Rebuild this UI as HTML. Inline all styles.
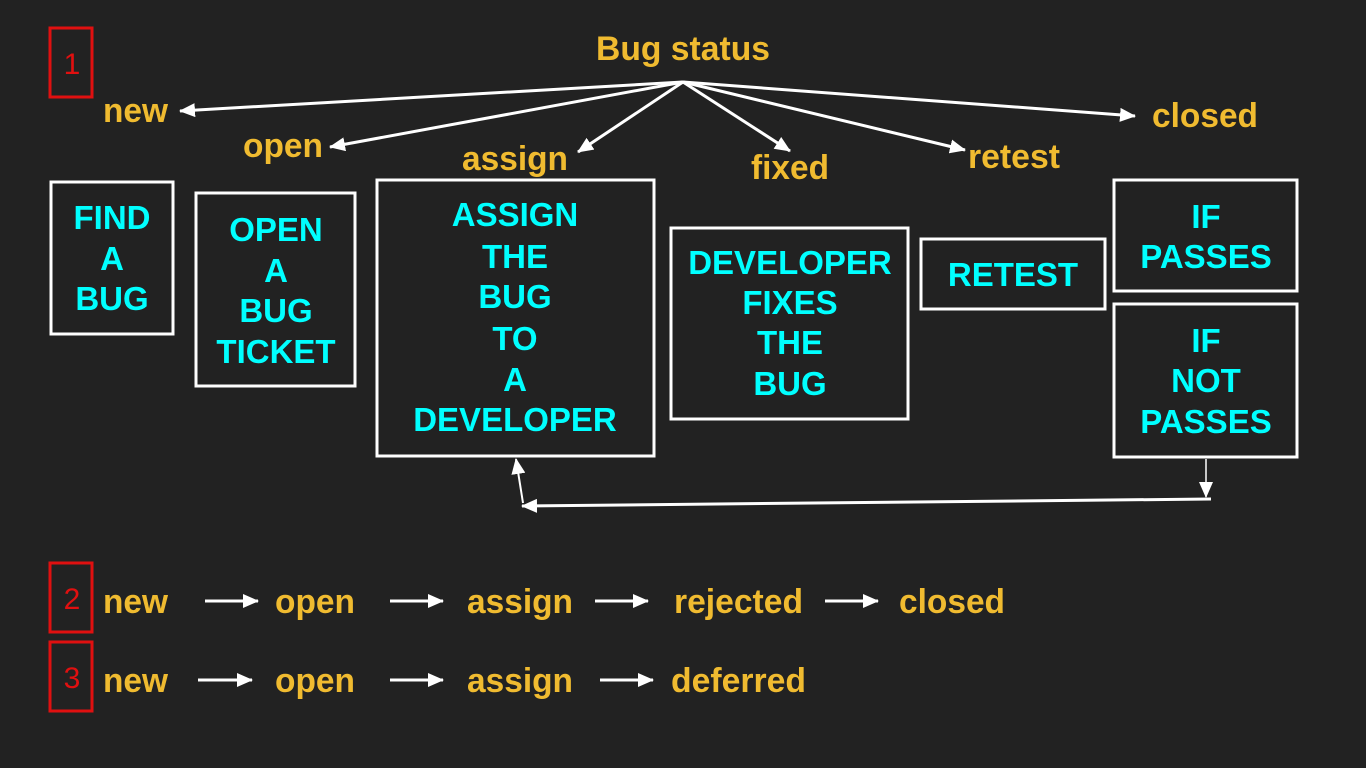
<!DOCTYPE html>
<html><head><meta charset="utf-8"><style>
html,body{margin:0;padding:0;background:#222222;}
svg{display:block}
.g{fill:#f0bb30;font-family:"Liberation Sans",sans-serif;font-weight:bold;font-size:34px}
.c{fill:#00ffff;font-family:"Liberation Sans",sans-serif;font-weight:bold;font-size:33px;text-anchor:middle}
.b{fill:none;stroke:#fff;stroke-width:3}
.l{stroke:#fff;stroke-width:3;fill:none}
.r{fill:none;stroke:#e01010;stroke-width:3}
.n{fill:#e01010;font-family:"Liberation Sans",sans-serif;font-size:30px;text-anchor:middle}
</style></head><body>
<svg width="1366" height="768" viewBox="0 0 1366 768" xmlns="http://www.w3.org/2000/svg">
<defs>
<marker id="a2" markerWidth="16" markerHeight="14" refX="15" refY="7" orient="auto" markerUnits="userSpaceOnUse" viewBox="0 0 16 14"><path d="M0,0 L16,7 L0,14 z" fill="#fff"/></marker>
</defs>
<rect width="1366" height="768" fill="#222222"/>
<rect class="r" x="50" y="28" width="42" height="69"/><text class="n" x="72" y="74">1</text>
<rect class="r" x="50" y="563" width="42" height="69"/><text class="n" x="72" y="609">2</text>
<rect class="r" x="50" y="642" width="42" height="69"/><text class="n" x="72" y="688">3</text>
<text class="g" x="596" y="60" textLength="174" lengthAdjust="spacingAndGlyphs">Bug status</text>
<text class="g" x="103" y="122" textLength="65" lengthAdjust="spacingAndGlyphs">new</text>
<text class="g" x="243" y="157" textLength="80" lengthAdjust="spacingAndGlyphs">open</text>
<text class="g" x="462" y="170" textLength="106" lengthAdjust="spacingAndGlyphs">assign</text>
<text class="g" x="751" y="179" textLength="78" lengthAdjust="spacingAndGlyphs">fixed</text>
<text class="g" x="968" y="168" textLength="92" lengthAdjust="spacingAndGlyphs">retest</text>
<text class="g" x="1152" y="127" textLength="106" lengthAdjust="spacingAndGlyphs">closed</text>
<g class="l">
<line x1="683" y1="82" x2="180" y2="111" marker-end="url(#a2)"/>
<line x1="683" y1="82" x2="330" y2="147" marker-end="url(#a2)"/>
<line x1="683" y1="82" x2="578" y2="152" marker-end="url(#a2)"/>
<line x1="683" y1="82" x2="790" y2="151" marker-end="url(#a2)"/>
<line x1="683" y1="82" x2="965" y2="150" marker-end="url(#a2)"/>
<line x1="683" y1="82" x2="1135" y2="116" marker-end="url(#a2)"/>
</g>
<rect class="b" x="51" y="182" width="122" height="152"/>
<text class="c"><tspan x="112" y="229">FIND</tspan><tspan x="112" y="270">A</tspan><tspan x="112" y="310">BUG</tspan></text>
<rect class="b" x="196" y="193" width="159" height="193"/>
<text class="c"><tspan x="276" y="241">OPEN</tspan><tspan x="276" y="282">A</tspan><tspan x="276" y="322">BUG</tspan><tspan x="276" y="363">TICKET</tspan></text>
<rect class="b" x="377" y="180" width="277" height="276"/>
<text class="c"><tspan x="515" y="226">ASSIGN</tspan><tspan x="515" y="268">THE</tspan><tspan x="515" y="308">BUG</tspan><tspan x="515" y="350">TO</tspan><tspan x="515" y="391">A</tspan><tspan x="515" y="431">DEVELOPER</tspan></text>
<rect class="b" x="671" y="228" width="237" height="191"/>
<text class="c"><tspan x="790" y="274">DEVELOPER</tspan><tspan x="790" y="314">FIXES</tspan><tspan x="790" y="354">THE</tspan><tspan x="790" y="395">BUG</tspan></text>
<rect class="b" x="921" y="239" width="184" height="70"/>
<text class="c"><tspan x="1013" y="286">RETEST</tspan></text>
<rect class="b" x="1114" y="180" width="183" height="111"/>
<text class="c"><tspan x="1206" y="228">IF</tspan><tspan x="1206" y="268">PASSES</tspan></text>
<rect class="b" x="1114" y="304" width="183" height="153"/>
<text class="c"><tspan x="1206" y="352">IF</tspan><tspan x="1206" y="392">NOT</tspan><tspan x="1206" y="433">PASSES</tspan></text>
<line x1="1206" y1="459" x2="1206" y2="497" stroke="#fff" stroke-width="1.5" marker-end="url(#a2)"/>
<line x1="1211" y1="499" x2="522" y2="506" stroke="#fff" stroke-width="3" marker-end="url(#a2)"/>
<line x1="523" y1="503" x2="516" y2="459" stroke="#fff" stroke-width="2" marker-end="url(#a2)"/>
<text class="g" x="103" y="613" textLength="65" lengthAdjust="spacingAndGlyphs">new</text>
<text class="g" x="275" y="613" textLength="80" lengthAdjust="spacingAndGlyphs">open</text>
<text class="g" x="467" y="613" textLength="106" lengthAdjust="spacingAndGlyphs">assign</text>
<text class="g" x="674" y="613" textLength="129" lengthAdjust="spacingAndGlyphs">rejected</text>
<text class="g" x="899" y="613" textLength="106" lengthAdjust="spacingAndGlyphs">closed</text>
<g stroke="#fff" stroke-width="3">
<line x1="205" y1="601" x2="258" y2="601" marker-end="url(#a2)"/>
<line x1="390" y1="601" x2="443" y2="601" marker-end="url(#a2)"/>
<line x1="595" y1="601" x2="648" y2="601" marker-end="url(#a2)"/>
<line x1="825" y1="601" x2="878" y2="601" marker-end="url(#a2)"/>
<line x1="198" y1="680" x2="252" y2="680" marker-end="url(#a2)"/>
<line x1="390" y1="680" x2="443" y2="680" marker-end="url(#a2)"/>
<line x1="600" y1="680" x2="653" y2="680" marker-end="url(#a2)"/>
</g>
<text class="g" x="103" y="692" textLength="65" lengthAdjust="spacingAndGlyphs">new</text>
<text class="g" x="275" y="692" textLength="80" lengthAdjust="spacingAndGlyphs">open</text>
<text class="g" x="467" y="692" textLength="106" lengthAdjust="spacingAndGlyphs">assign</text>
<text class="g" x="671" y="692" textLength="135" lengthAdjust="spacingAndGlyphs">deferred</text>
</svg>
</body></html>
